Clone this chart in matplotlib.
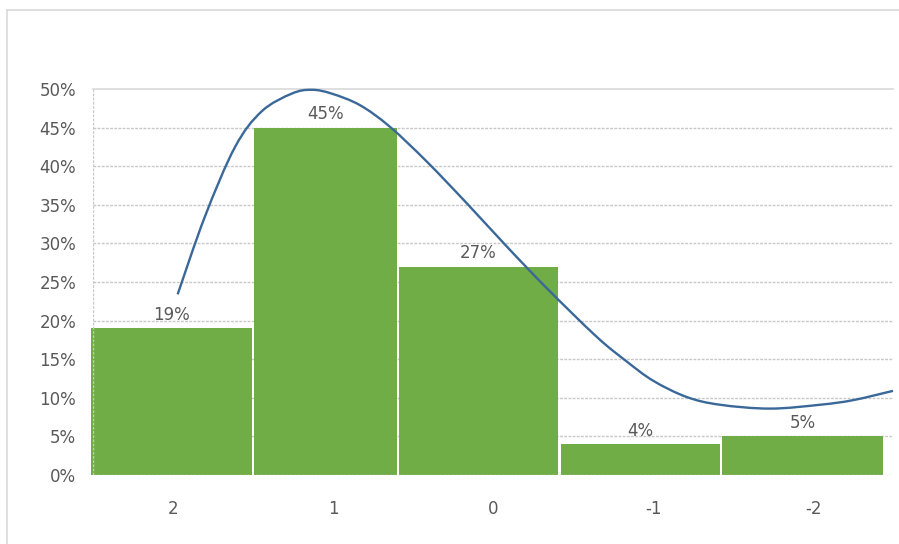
import matplotlib
matplotlib.use("Agg")
import matplotlib.pyplot as plt
from matplotlib.lines import Line2D
from matplotlib.path import Path
from matplotlib.patches import PathPatch
from matplotlib.ticker import PercentFormatter

# Category labels and bar shares
categories = ["2", "1", "0", "-1", "-2"]
shares = [0.19, 0.45, 0.27, 0.04, 0.05]

# Smooth fitted curve, sampled along the category axis (x in category units, y as share)
curve_x = [0.529, 0.700, 0.888, 1.054, 1.242, 1.367, 1.492, 1.669, 1.856, 2.086,
           2.336, 2.586, 2.836, 3.148, 3.336, 3.502, 3.711, 3.919, 4.231, 4.544,
           4.752, 5.000]
curve_y = [0.234, 0.335, 0.425, 0.471, 0.494, 0.499, 0.494, 0.479, 0.451, 0.406,
           0.352, 0.296, 0.242, 0.179, 0.147, 0.122, 0.101, 0.091, 0.086, 0.091,
           0.097, 0.109]

# Bar extents along the x axis (layout)
bar_left = [-0.0125, 1.006, 1.9125, 2.925, 3.931]
bar_right = [0.994, 1.900, 2.906, 3.919, 4.9375]

GREEN = "#70AD47"
BLUE = "#3A6898"
TEXT = "#595959"
GRID = "#C8C8C8"


def smooth_path(xs, ys):
    """Cubic Bezier path through the points (Catmull-Rom tangents)."""
    pts = list(zip(xs, ys))
    verts = [pts[0]]
    codes = [Path.MOVETO]
    n = len(pts)
    for i in range(n - 1):
        p0 = pts[i - 1] if i > 0 else pts[i]
        p1 = pts[i]
        p2 = pts[i + 1]
        p3 = pts[i + 2] if i + 2 < n else pts[i + 1]
        c1 = (p1[0] + (p2[0] - p0[0]) / 6, p1[1] + (p2[1] - p0[1]) / 6)
        c2 = (p2[0] - (p3[0] - p1[0]) / 6, p2[1] - (p3[1] - p1[1]) / 6)
        verts += [c1, c2, p2]
        codes += [Path.CURVE4] * 3
    return Path(verts, codes)


W, H = 899, 544
fig = plt.figure(figsize=(W / 100, H / 100), dpi=100)
fig.patch.set_facecolor("white")

# Chart area border (top and left edges visible)
fig.add_artist(Line2D([7 / W, 1.0], [1 - 9.5 / H, 1 - 9.5 / H], color="#D9D9D9", lw=1.2))
fig.add_artist(Line2D([7 / W, 7 / W], [0.0, 1 - 9.5 / H], color="#D9D9D9", lw=1.2))

left, right = 93 / W, 893 / W
bottom, top = (H - 475) / H, (H - 89) / H
ax = fig.add_axes([left, bottom, right - left, top - bottom])

ax.set_xlim(0, 5)
ax.set_ylim(0, 0.5)

# Horizontal gridlines
for yv in [0.05, 0.10, 0.15, 0.20, 0.25, 0.30, 0.35, 0.40, 0.45]:
    ax.axhline(yv, color=GRID, lw=1.0, ls=(0, (2, 1)), zorder=0.5)
ax.axhline(0.5, color="#D9D9D9", lw=1.2, zorder=0.5, clip_on=False)

for i, v in enumerate(shares):
    l, r = bar_left[i], bar_right[i]
    ax.bar(l, v, width=r - l, align="edge", color=GREEN, linewidth=0, zorder=2,
           clip_on=False)
    c = (l + r) / 2
    ax.annotate(f"{v:.0%}", xy=(c, v), xytext=(0, 3), textcoords="offset points",
                ha="center", va="bottom", color=TEXT, fontsize=12, zorder=4)

# Axis lines: dashed baseline and left edge
ax.axhline(0, color=GRID, lw=1.0, ls=(0, (2, 1)), zorder=3)
ax.axvline(0, color=GRID, lw=1.0, ls=(0, (2, 1)), zorder=3)

curve = PathPatch(smooth_path(curve_x, curve_y), facecolor="none", edgecolor=BLUE,
                  lw=1.7, zorder=5, capstyle="butt", joinstyle="round", clip_on=False)
ax.add_patch(curve)

for s in ax.spines.values():
    s.set_visible(False)

ax.set_xticks([0.5, 1.5, 2.5, 3.5, 4.5])
ax.set_xticklabels(categories)
ax.set_yticks([0, 0.05, 0.10, 0.15, 0.20, 0.25, 0.30, 0.35, 0.40, 0.45, 0.50])
ax.yaxis.set_major_formatter(PercentFormatter(1.0, decimals=0))
ax.tick_params(axis="both", length=0, colors=TEXT, labelsize=12)
ax.tick_params(axis="y", pad=12)
ax.tick_params(axis="x", pad=18)

fig.savefig("out.png", dpi=100, facecolor="white")
